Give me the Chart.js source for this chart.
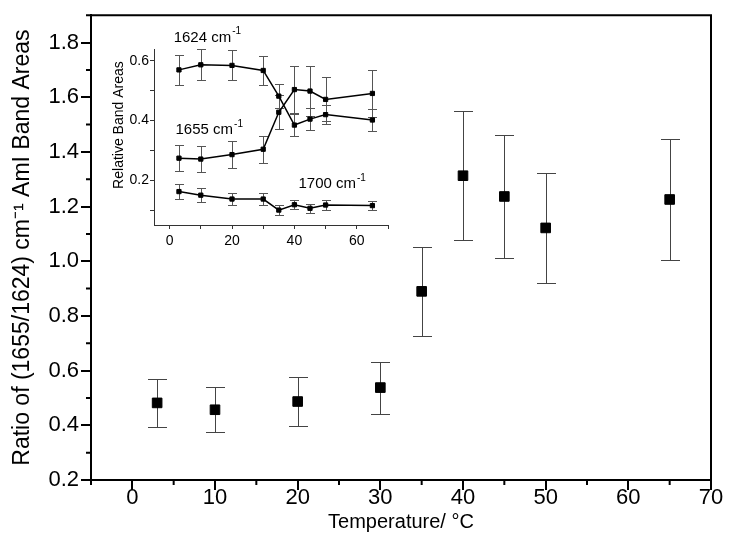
<!DOCTYPE html>
<html>
<head>
<meta charset="utf-8">
<script src="https://cdn.jsdelivr.net/npm/chart.js@4.4.1/dist/chart.umd.min.js"></script>
<style>
  body { margin: 0; background: #fff; }
  #wrap { position: relative; width: 729px; height: 558px; }
  #main { position: absolute; left: 0; top: 0; }
  #inset { position: absolute; left: 95px; top: 25px; }
</style>
</head>
<body>
<div id="wrap">
  <canvas id="main" width="729" height="558"></canvas>
  <canvas id="inset" width="300" height="235"></canvas>
</div>
<script>
// Temperatures (degC) shared by the main plot and the inset
const temps = [3, 10, 20, 30, 35, 40, 45, 50, 65];

// Main plot: ratio of 1655/1624 band areas with error
const ratio = [0.482, 0.457, 0.487, 0.538, 0.890, 1.313, 1.237, 1.122, 1.226];
const ratioErr = [0.087, 0.082, 0.088, 0.095, 0.162, 0.236, 0.224, 0.200, 0.222];

// Inset: relative band areas
const area1624 = [0.570, 0.587, 0.585, 0.568, 0.482, 0.385, 0.405, 0.420, 0.402];
const err1624 = [0.051, 0.052, 0.050, 0.050, 0.041, 0.037, 0.037, 0.032, 0.037];
const area1655 = [0.274, 0.271, 0.286, 0.304, 0.428, 0.504, 0.499, 0.471, 0.491];
const err1655 = [0.043, 0.043, 0.045, 0.046, 0.057, 0.079, 0.083, 0.074, 0.079];
const area1700 = [0.162, 0.150, 0.137, 0.137, 0.100, 0.118, 0.106, 0.117, 0.115];
const err1700 = [0.026, 0.023, 0.020, 0.021, 0.016, 0.016, 0.015, 0.016, 0.016];

// Texts written inside the inset
const bandNames = ['1624 cm', '1655 cm', '1700 cm'];
const insetTitle = 'Relative Band Areas';

Chart.defaults.font.family = "'Liberation Sans', Arial, sans-serif";
Chart.defaults.color = '#000';

function points(xs, ys) {
    return xs.map((x, i) => ({ x: x, y: ys[i] }));
}

// vertical error bars with caps, drawn under the markers
const errorBars = {
    id: 'errorBars',
    beforeDatasetsDraw(chart, args, opts) {
        const { ctx, scales: { x, y } } = chart;
        ctx.save();
        ctx.strokeStyle = opts.color;
        ctx.lineWidth = opts.width;
        chart.data.datasets.forEach((ds) => {
            if (!ds.errors) return;
            ds.data.forEach((p, i) => {
                const e = ds.errors[i];
                const px = Math.round(x.getPixelForValue(p.x)) + 0.5;
                const top = Math.round(y.getPixelForValue(p.y + e)) + 0.5;
                const bot = Math.round(y.getPixelForValue(p.y - e)) + 0.5;
                ctx.beginPath();
                ctx.moveTo(px, top); ctx.lineTo(px, bot);
                ctx.moveTo(px - opts.cap, top); ctx.lineTo(px + opts.cap, top);
                ctx.moveTo(px - opts.cap, bot); ctx.lineTo(px + opts.cap, bot);
                ctx.stroke();
            });
        });
        ctx.restore();
    }
};

// half-step ticks and the top/right frame of the main plot
const frame = {
    id: 'frame',
    afterDraw(chart, args, opts) {
        const { ctx, chartArea: a } = chart;
        ctx.save();
        ctx.strokeStyle = '#000';
        ctx.lineWidth = opts.width;
        ctx.beginPath();
        ['x', 'y'].forEach((id) => {
            const s = chart.scales[id];
            const vals = s.ticks.map(t => t.value);
            const step = vals[1] - vals[0];
            for (let v = vals[0] - step / 2; v <= s.max + 1e-9; v += step) {
                if (v < s.min - 1e-9) continue;
                const p = s.getPixelForValue(v);
                if (id === 'x') { ctx.moveTo(p, a.bottom); ctx.lineTo(p, a.bottom + opts.minor); }
                else { ctx.moveTo(a.left, p); ctx.lineTo(a.left - opts.minor, p); }
            }
        });
        ctx.stroke();
        ctx.beginPath();
        ctx.moveTo(a.left, a.top);
        ctx.lineTo(a.right, a.top);
        ctx.lineTo(a.right, a.bottom);
        ctx.stroke();
        ctx.restore();
    }
};

// inset texts anchored in data coordinates, with optional superscript or rotation
const insetText = {
    id: 'insetText',
    afterDraw(chart, args, opts) {
        const { ctx, scales: { x, y } } = chart;
        const fam = Chart.defaults.font.family;
        ctx.save();
        ctx.fillStyle = '#000';
        ctx.textBaseline = 'middle';
        opts.items.forEach((it) => {
            const px = x.getPixelForValue(it.x);
            const py = y.getPixelForValue(it.y);
            ctx.font = it.size + 'px ' + fam;
            if (it.rotate) {
                ctx.save();
                ctx.translate(px, py);
                ctx.rotate(-Math.PI / 2);
                ctx.textAlign = 'center';
                ctx.fillText(it.text, 0, 0);
                ctx.restore();
                return;
            }
            ctx.fillText(it.text, px, py);
            const w = ctx.measureText(it.text).width;
            ctx.font = opts.supSize + 'px ' + fam;
            ctx.fillText(it.sup, px + w + 1, py - it.size * 0.42);
        });
        ctx.restore();
    }
};

new Chart(document.getElementById('main'), {
    type: 'scatter',
    data: {
        datasets: [{
            data: points(temps, ratio),
            errors: ratioErr,
            pointStyle: 'rect',
            pointRadius: 6.8,
            pointHoverRadius: 6.8,
            backgroundColor: '#000',
            borderColor: '#000',
            borderWidth: 1
        }]
    },
    options: {
        responsive: false,
        animation: false,
        events: [],
        layout: { padding: { left: 0, right: 18, top: 12, bottom: 0 } },
        plugins: {
            legend: { display: false },
            tooltip: { enabled: false },
            errorBars: { color: '#444', width: 1, cap: 9.5 },
            frame: { width: 2, minor: 5 }
        },
        scales: {
            x: {
                type: 'linear',
                min: -5,
                max: 70,
                ticks: { stepSize: 10, includeBounds: false, font: { size: 22 }, padding: -5, maxRotation: 0 },
                grid: { drawOnChartArea: false, tickLength: 10, color: '#000', lineWidth: 2 },
                border: { color: '#000', width: 2 },
                title: {
                    display: true,
                    text: 'Temperature/ \u00B0C',
                    font: { size: 20 },
                    padding: { top: 0, bottom: 24 }
                },
                afterFit(s) { s.height = 78; }
            },
            y: {
                min: 0.2,
                max: 1.9,
                ticks: {
                    stepSize: 0.2,
                    includeBounds: false,
                    font: { size: 22 },
                    padding: 2,
                    callback: v => v.toFixed(1)
                },
                grid: { drawOnChartArea: false, tickLength: 10, color: '#000', lineWidth: 2 },
                border: { color: '#000', width: 2 },
                title: {
                    display: true,
                    text: 'Ratio of (1655/1624) cm\u207B\u00B9 AmI Band Areas',
                    font: { size: 23 },
                    padding: { top: 9, bottom: 0 }
                },
                afterFit(s) { s.width = 91; }
            }
        }
    },
    plugins: [errorBars, frame]
});

function insetSeries(ys, errs) {
    return {
        data: points(temps, ys),
        errors: errs,
        showLine: true,
        borderColor: '#000',
        borderWidth: 1.5,
        pointStyle: 'rect',
        pointRadius: 3,
        pointHoverRadius: 3,
        pointBackgroundColor: '#000',
        pointBorderColor: '#000',
        pointBorderWidth: 1
    };
}

new Chart(document.getElementById('inset'), {
    type: 'scatter',
    data: {
        datasets: [
            insetSeries(area1624, err1624),
            insetSeries(area1655, err1655),
            insetSeries(area1700, err1700)
        ]
    },
    options: {
        responsive: false,
        animation: false,
        events: [],
        layout: { padding: { left: 0, right: 7, top: 24, bottom: 0 } },
        plugins: {
            legend: { display: false },
            tooltip: { enabled: false },
            errorBars: { color: '#555', width: 1, cap: 4.5 },
            insetText: {
                supSize: 10,
                items: [
                    { text: bandNames[0], sup: '-1', size: 15, x: 1.3, y: 0.677 },
                    { text: bandNames[1], sup: '-1', size: 15, x: 1.9, y: 0.368 },
                    { text: bandNames[2], sup: '-1', size: 15, x: 41.3, y: 0.187 },
                    { text: insetTitle, rotate: true, size: 14, x: -16.3, y: 0.385 }
                ]
            }
        },
        scales: {
            x: {
                type: 'linear',
                min: -5,
                max: 70,
                ticks: {
                    stepSize: 10,
                    includeBounds: false,
                    font: { size: 14 },
                    padding: 4,
                    maxRotation: 0,
                    autoSkip: false,
                    callback: v => (v % 20 === 0 ? v : '')
                },
                grid: { drawOnChartArea: false, tickLength: 4, color: '#333', lineWidth: 1 },
                border: { color: '#333', width: 1 },
                afterFit(s) { s.height = 35; }
            },
            y: {
                min: 0.05,
                max: 0.64,
                ticks: {
                    stepSize: 0.1,
                    includeBounds: false,
                    font: { size: 14 },
                    padding: 1,
                    autoSkip: false,
                    callback: v => (Math.round(v * 10) % 2 === 0 ? v.toFixed(1) : '')
                },
                grid: { drawOnChartArea: false, tickLength: 4, color: '#333', lineWidth: 1 },
                border: { color: '#333', width: 1 },
                afterFit(s) { s.width = 59; }
            }
        }
    },
    plugins: [errorBars, insetText]
});
</script>
</body>
</html>
